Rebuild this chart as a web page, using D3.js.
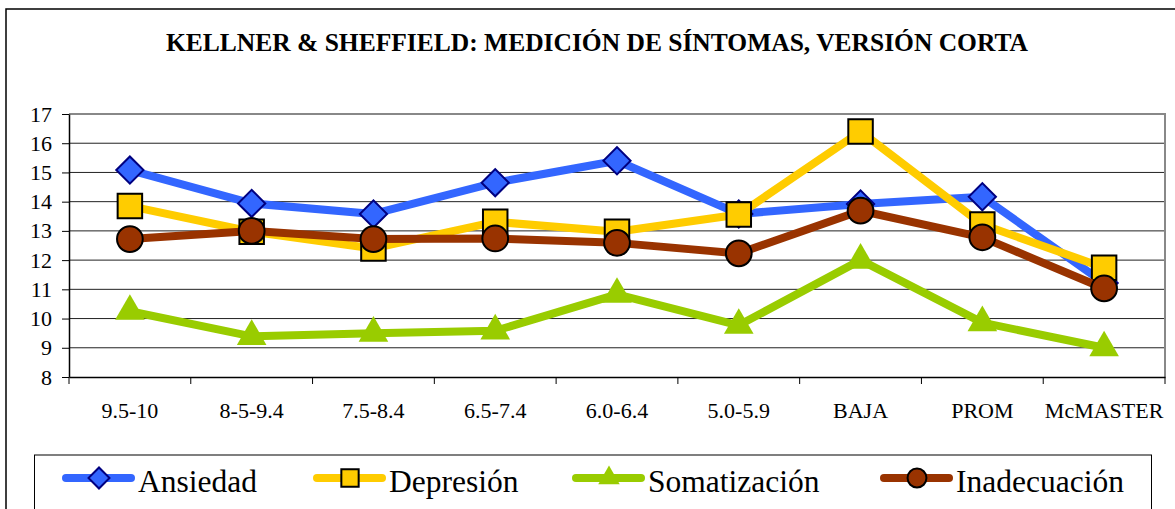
<!DOCTYPE html>
<html>
<head>
<meta charset="utf-8">
<script src="https://cdn.jsdelivr.net/npm/d3@7.9.0/dist/d3.min.js"></script>
<style>
  body { margin: 0; background: #fff; }
  svg { display: block; font-family: "Liberation Serif", "Times New Roman", serif; }
</style>
</head>
<body>
<svg id="chart" width="1175" height="509"></svg>
<script>
// Data
const categories = ['9.5-10', '8-5-9.4', '7.5-8.4', '6.5-7.4', '6.0-6.4', '5.0-5.9', 'BAJA', 'PROM', 'McMASTER'];
const ansiedad     = [15.08, 13.94, 13.58, 14.65, 15.40, 13.58, 13.92, 14.17, 11.22];
const depresion    = [13.85, 12.97, 12.40, 13.31, 12.97, 13.56, 16.40, 13.22, 11.74];
const somatizacion = [10.25, 9.39, 9.50, 9.58, 10.83, 9.77, 12.00, 9.86, 9.00];
const inadecuacion = [12.72, 13.00, 12.72, 12.74, 12.59, 12.23, 13.69, 12.78, 11.03];
const yTicks = [8, 9, 10, 11, 12, 13, 14, 15, 16, 17];
const title = 'KELLNER & SHEFFIELD: MEDICIÓN DE SÍNTOMAS, VERSIÓN CORTA';

// diamond = square turned 45 degrees
const series = [
  { name: 'Ansiedad', values: ansiedad, color: '#3366ff', stroke: '#000080', symbol: d3.symbolSquare, rot: 45, size: 370, legendSize: 220 },
  { name: 'Depresión', values: depresion, color: '#ffcc00', stroke: '#000', symbol: d3.symbolSquare, rot: 0, size: 600, legendSize: 300 },
  { name: 'Somatización', values: somatizacion, color: '#99cc00', stroke: 'none', symbol: d3.symbolTriangle, rot: 0, size: 380, legendSize: 200 },
  { name: 'Inadecuación', values: inadecuacion, color: '#993300', stroke: '#000', symbol: d3.symbolCircle, rot: 0, size: 520, legendSize: 280 }
];

const svg = d3.select('#chart');
const plot = { left: 69, right: 1165, top: 114, bottom: 377 };
const serif = '"Liberation Serif", "Times New Roman", serif';

// outer chart frame
svg.append('rect')
  .attr('x', 6).attr('y', 9).attr('width', 1200).attr('height', 600)
  .attr('fill', 'none').attr('stroke', '#000').attr('stroke-width', 1.5);

svg.append('text')
  .attr('x', 597).attr('y', 51)
  .attr('text-anchor', 'middle')
  .attr('font-weight', 'bold')
  .attr('font-size', 25.5)
  .text(title);

const x = d3.scaleBand().domain(categories).range([plot.left, plot.right]);
const y = d3.scaleLinear().domain([8, 17]).range([plot.bottom, plot.top]);

// grid lines
svg.append('g')
  .selectAll('line')
  .data(yTicks.filter(t => t > 8 && t < 17))
  .join('line')
  .attr('x1', plot.left).attr('x2', plot.right)
  .attr('y1', d => y(d)).attr('y2', d => y(d))
  .attr('stroke', '#222').attr('stroke-width', 1);

// top and right border of plot area
svg.append('path')
  .attr('d', `M${plot.left},${y(17)}H${plot.right}V${plot.bottom}`)
  .attr('fill', 'none').attr('stroke', '#888').attr('stroke-width', 2);

// y axis
const yAxis = svg.append('g')
  .attr('transform', `translate(${plot.left},0)`)
  .call(d3.axisLeft(y).tickValues(yTicks).tickSize(7).tickPadding(10).tickSizeOuter(0))
  .attr('font-family', serif).attr('font-size', 22);
yAxis.select('.domain').attr('stroke', '#000').attr('stroke-width', 1.5);
yAxis.selectAll('.tick line').attr('stroke', '#000');
yAxis.selectAll('text').attr('fill', '#000');

// x axis: labels centred on bands, ticks between bands
const xAxis = svg.append('g')
  .attr('transform', `translate(0,${plot.bottom})`)
  .call(d3.axisBottom(x).tickSize(0).tickPadding(25).tickSizeOuter(0))
  .attr('font-family', serif).attr('font-size', 22);
xAxis.select('.domain').attr('stroke', '#000').attr('stroke-width', 1.5);
xAxis.selectAll('text').attr('fill', '#000');
xAxis.selectAll('.bound')
  .data(categories.map(c => x(c)).concat([x.range()[1]]))
  .join('line')
  .attr('class', 'bound')
  .attr('x1', d => d).attr('x2', d => d)
  .attr('y1', 0).attr('y2', 7)
  .attr('stroke', '#000').attr('stroke-width', 1);

const cx = c => x(c) + x.bandwidth() / 2;
const line = d3.line().x((d, i) => cx(categories[i])).y(d => y(d));

// each series: line then markers (drawn in order like the original)
series.forEach(s => {
  const g = svg.append('g');
  g.append('path')
    .attr('d', line(s.values))
    .attr('fill', 'none')
    .attr('stroke', s.color)
    .attr('stroke-width', 8)
    .attr('stroke-linejoin', 'round');
  g.selectAll('path.marker')
    .data(s.values)
    .join('path')
    .attr('class', 'marker')
    .attr('transform', (d, i) => `translate(${cx(categories[i])},${y(d)}) rotate(${s.rot})`)
    .attr('d', d3.symbol().type(s.symbol).size(s.size))
    .attr('fill', s.color)
    .attr('stroke', s.stroke)
    .attr('stroke-width', 2);
});

// legend
svg.append('rect')
  .attr('x', 34.5).attr('y', 455).attr('width', 1117).attr('height', 80)
  .attr('fill', '#fff').attr('stroke', '#000').attr('stroke-width', 1);

const legendX = [66, 317, 576, 884];
series.forEach((s, i) => {
  const g = svg.append('g').attr('transform', `translate(${legendX[i]},478)`);
  g.append('line')
    .attr('x1', 0).attr('x2', 65)
    .attr('stroke', s.color).attr('stroke-width', 8).attr('stroke-linecap', 'round');
  g.append('path')
    .attr('transform', `translate(33,0) rotate(${s.rot})`)
    .attr('d', d3.symbol().type(s.symbol).size(s.legendSize))
    .attr('fill', s.color)
    .attr('stroke', s.stroke)
    .attr('stroke-width', 2);
  g.append('text')
    .attr('x', 72).attr('y', 14)
    .attr('font-size', 31.5)
    .text(s.name);
});
</script>
</body>
</html>
